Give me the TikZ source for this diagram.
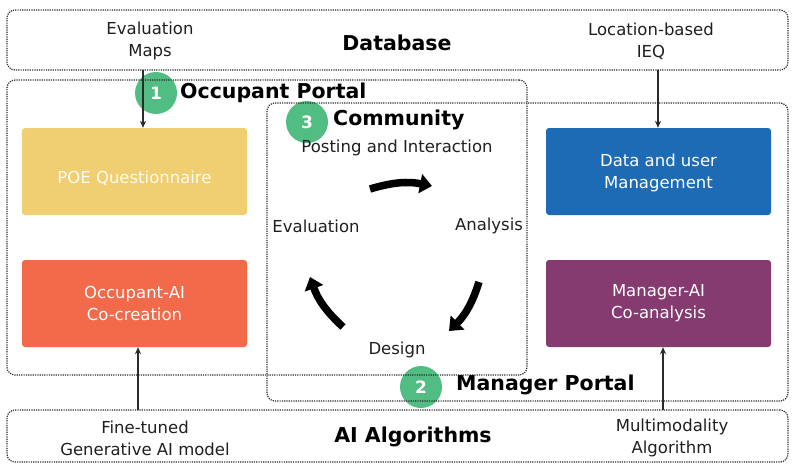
\documentclass[tikz,border=0pt]{standalone}
\usepackage{fontspec}
\setmainfont{DejaVu Sans}
\usetikzlibrary{arrows.meta}
\definecolor{poeyellow}{HTML}{F0CE72}
\definecolor{occorange}{HTML}{F26A4A}
\definecolor{datablue}{HTML}{1E6BB5}
\definecolor{mgrpurple}{HTML}{853B70}
\definecolor{badgegreen}{HTML}{52BD82}
\definecolor{linegray}{HTML}{2A2A2A}
\newcommand{\fsreg}{\fontsize{16.5}{22}\selectfont}
\newcommand{\fsbig}{\fontsize{20.5}{24}\selectfont\bfseries}
\begin{document}
\begin{tikzpicture}[x=1pt,y=-1pt,
  region/.style={draw=linegray, line width=1.2pt, dash pattern=on 1.2pt off 1.1pt,
    rounded corners=8pt, inner sep=0pt},
  colbox/.style={rounded corners=3pt, minimum width=225pt, minimum height=87pt, inner sep=0pt},
  boxtext/.style={text=white, align=center, font=\fsreg},
  lbl/.style={align=center, font=\fsreg, text=black!88, inner sep=0pt},
  title/.style={font=\fsbig, text=black, inner sep=0pt},
  badge/.style={circle, fill=badgegreen, text=white, minimum size=42pt, inner sep=0pt,
    font=\fontsize{17}{20}\selectfont\bfseries},
  thinarrow/.style={draw=linegray, line width=1.2pt, -{Stealth[length=7pt,width=6pt]}},
  bigarrow/.style={draw=black, line width=7.5pt, -{Triangle[length=12pt,width=19pt]}}
]
\useasboundingbox (0,0) rectangle (798,469);

% badges (under the dotted frames)
\node[badge] (b1) at (156,93) {1};
\node[badge] (b3) at (307,122) {3};
\node[badge] (b2) at (421,387) {2};

% regions
\node[region, minimum width=781pt, minimum height=60pt] (db) at (397.5,40) {};
\node[region, minimum width=520pt, minimum height=295pt] (occ) at (267,227.5) {};
\node[region, minimum width=521pt, minimum height=298pt] (mgr) at (527.5,252) {};
\node[region, minimum width=781pt, minimum height=52pt] (ai) at (397.5,436) {};

% titles
\node[title] (dbt) at (397,43) {Database};
\node[title, anchor=west] (occt) at (180,93) {Occupant Portal};
\node[title, anchor=west] (comt) at (333,120) {Community};
\node[title, anchor=west] (mgrt) at (456,385) {Manager Portal};
\node[title] (ait) at (413,437) {AI Algorithms};

% database / algorithm labels
\node[lbl] (evm) at (150,41) {Evaluation\\Maps};
\node[lbl] (loc) at (651,41) {Location-based\\IEQ};
\node[lbl] (ft) at (145,438) {Fine-tuned\\Generative AI model};
\node[lbl] (mm) at (672,438) {Multimodality\\Algorithm};

% coloured boxes
\node[colbox, fill=poeyellow] (poe) at (134.5,171.5) {};
\node[boxtext, text=white!90!poeyellow] (poet) at (134.5,178) {POE Questionnaire};
\node[colbox, fill=occorange] (oai) at (134.5,303.5) {};
\node[boxtext] (oait) at (134.5,303.5) {Occupant-AI\\Co-creation};
\node[colbox, fill=datablue] (dum) at (658.5,171.5) {};
\node[boxtext] (dumt) at (658.5,172.5) {Data and user\\Management};
\node[colbox, fill=mgrpurple] (mai) at (658.5,303.5) {};
\node[boxtext] (mait) at (658.5,303.5) {Manager-AI\\Co-analysis};

% thin arrows
\coordinate (a1) at (143,70);
\coordinate (a2) at (658,70);
\coordinate (a3) at (138,410);
\coordinate (a4) at (663,410);
\draw[thinarrow] (a1) -- (a1 |- poe.north);
\draw[thinarrow] (a2) -- (a2 |- dum.north);
\draw[thinarrow] (a3) -- (a3 |- oai.south);
\draw[thinarrow] (a4) -- (a4 |- mai.south);

% community cycle
\node[lbl] (post) at (397,148) {Posting and Interaction};
\node[lbl] (anal) at (489,226) {Analysis};
\node[lbl] (desg) at (397,350) {Design};
\node[lbl] (eval) at (316,226) {Evaluation};
\coordinate (c1s) at (370,189);
\coordinate (c1e) at (432,186);
\coordinate (c2s) at (479,282);
\coordinate (c2e) at (449,331);
\coordinate (c3s) at (343,327);
\coordinate (c3e) at (310,277);
\draw[bigarrow] (c1s) to[bend left=14] (c1e);
\draw[bigarrow] (c2s) to[bend left=14] (c2e);
\draw[bigarrow] (c3s) to[bend left=14] (c3e);
\end{tikzpicture}
\end{document}
